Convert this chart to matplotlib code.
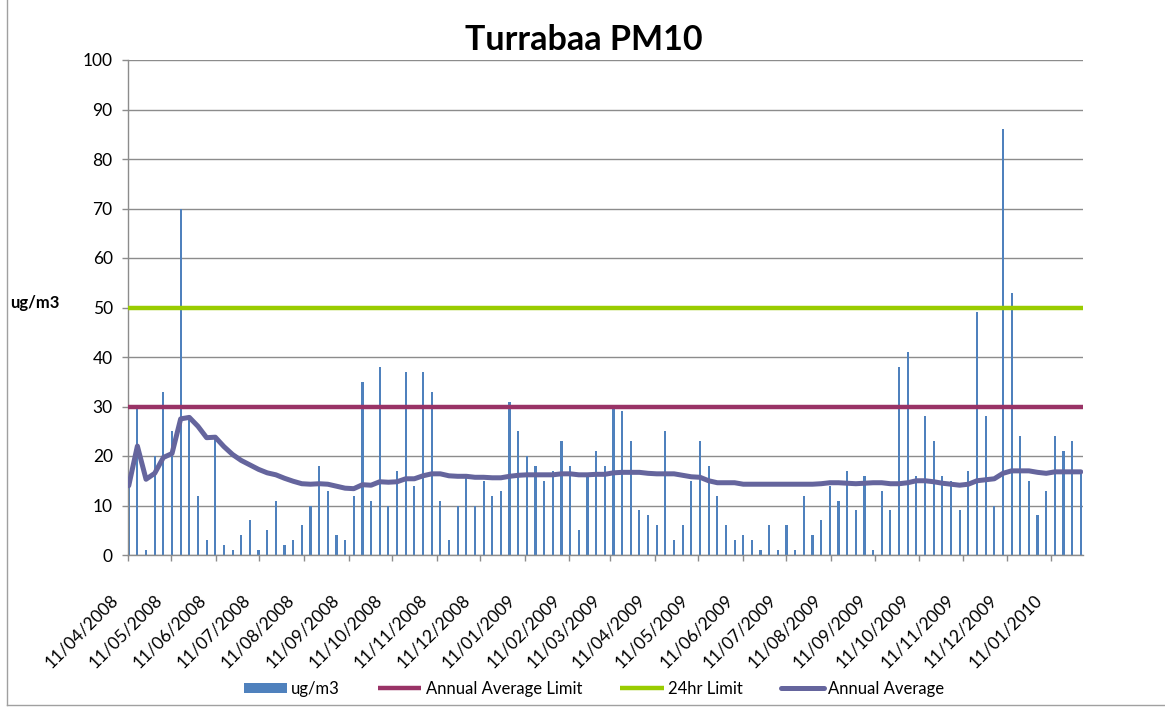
import matplotlib
matplotlib.use("Agg")
import matplotlib.pyplot as plt
import matplotlib.dates as mdates
from matplotlib.transforms import ScaledTranslation
from matplotlib.lines import Line2D
import numpy as np
import pandas as pd

plt.rcParams['font.family'] = ['Lato', 'DejaVu Sans']

# ---- data ----
start_date = "2008-04-11"
sample_step_days = 6
pm10 = [14, 30, 1, 20, 33, 25, 70, 28, 12, 3,
        24, 2, 1, 4, 7, 1, 5, 11, 2, 3,
        6, 10, 18, 13, 4, 3, 12, 35, 11, 38,
        10, 17, 37, 14, 37, 33, 11, 3, 10, 16,
        10, 15, 12, 13, 31, 25, 20, 18, 15, 17,
        23, 18, 5, 16, 21, 18, 30, 29, 23, 9,
        8, 6, 25, 3, 6, 15, 23, 18, 12, 6,
        3, 4, 3, 1, 6, 1, 6, 1, 12, 4,
        7, 14, 11, 17, 9, 16, 1, 13, 9, 38,
        41, 16, 28, 23, 16, 15, 9, 17, 49, 28,
        10, 86, 53, 24, 15, 8, 13, 24, 21, 23, 17]
annual_average = [14.0, 22.0, 15.3, 16.5, 19.7, 20.5, 27.5, 27.8, 26.0, 23.7,
                  23.8, 21.9, 20.3, 19.1, 18.2, 17.3, 16.6, 16.2, 15.5, 14.9,
                  14.4, 14.3, 14.4, 14.3, 13.9, 13.5, 13.4, 14.2, 14.1, 14.8,
                  14.7, 14.8, 15.4, 15.4, 16.0, 16.4, 16.4, 16.0, 15.9, 15.9,
                  15.7, 15.7, 15.6, 15.6, 15.9, 16.1, 16.2, 16.2, 16.2, 16.2,
                  16.4, 16.4, 16.2, 16.2, 16.3, 16.3, 16.6, 16.7, 16.7, 16.7,
                  16.5, 16.4, 16.4, 16.4, 16.1, 15.8, 15.7, 15.0, 14.6, 14.6,
                  14.6, 14.3, 14.3, 14.3, 14.3, 14.3, 14.3, 14.3, 14.3, 14.3,
                  14.4, 14.6, 14.6, 14.5, 14.4, 14.5, 14.6, 14.6, 14.4, 14.4,
                  14.6, 15.0, 15.0, 14.8, 14.5, 14.3, 14.1, 14.3, 15.0, 15.2,
                  15.4, 16.5, 17.0, 17.0, 17.0, 16.7, 16.5, 16.8, 16.8, 16.8, 16.8]
annual_average_limit = 30
daily_limit = 50
tick_labels = ["11/04/2008", "11/05/2008", "11/06/2008", "11/07/2008", "11/08/2008",
               "11/09/2008", "11/10/2008", "11/11/2008", "11/12/2008", "11/01/2009",
               "11/02/2009", "11/03/2009", "11/04/2009", "11/05/2009", "11/06/2009",
               "11/07/2009", "11/08/2009", "11/09/2009", "11/10/2009", "11/11/2009",
               "11/12/2009", "11/01/2010"]
title = "Turrabaa PM10"
unit_label = "ug/m3"

# ---- positions ----
dates = pd.date_range(start_date, periods=len(pm10), freq=f"{sample_step_days}D")
x = mdates.date2num(dates.to_pydatetime()) + 0.5
tick_dates = mdates.date2num(pd.to_datetime(tick_labels, format="%d/%m/%Y").to_pydatetime())
x0 = mdates.date2num(pd.Timestamp(start_date).to_pydatetime())
x1 = x0 + 662

W, H = 1165, 709
fig = plt.figure(figsize=(W / 100, H / 100), dpi=100)
ax = fig.add_axes([128 / W, 1 - 555 / H, (1083 - 128) / W, (555 - 60) / H])

bar_c = "#4F81BD"
lim_c = "#993366"
day_c = "#99CC00"
avg_c = "#65659D"
grid_c = "#8C8C8C"

hb = ax.bar(x, pm10, width=1.5, color=bar_c, zorder=2, label="ug/m3")
hl, = ax.plot([x0, x1], [annual_average_limit] * 2, color=lim_c, lw=3.2, zorder=3,
              solid_capstyle='butt', label="Annual Average Limit")
hd, = ax.plot([x0, x1], [daily_limit] * 2, color=day_c, lw=3.2, zorder=3,
              solid_capstyle='butt', label="24hr Limit")
ha_, = ax.plot(x, annual_average, color=avg_c, lw=3.6, zorder=4,
               solid_joinstyle='round', solid_capstyle='round', label="Annual Average")

ax.set_xlim(x0, x1)
ax.set_ylim(0, 100)
ax.set_yticks(np.arange(0, 101, 10))
ax.yaxis.grid(True, color=grid_c, lw=1)
ax.set_axisbelow(True)
for s in ["top", "right"]:
    ax.spines[s].set_visible(False)
for s in ["left", "bottom"]:
    ax.spines[s].set_color(grid_c)
    ax.spines[s].set_linewidth(1)

ax.tick_params(axis='y', length=4, width=1, color=grid_c, labelsize=12.5, pad=7, labelcolor='black')
ax.set_xticks(tick_dates)
ax.set_xticklabels(tick_labels, rotation=45, ha='right', va='center', rotation_mode='anchor')
ax.tick_params(axis='x', length=4, width=1, color=grid_c, labelsize=12.5, pad=0, labelcolor='black')
off = ScaledTranslation(-12 / 100, -37 / 100, fig.dpi_scale_trans)
for lbl in ax.get_xticklabels():
    lbl.set_transform(lbl.get_transform() + off)

fig.text(584 / W, 1 - 40 / H, title, ha='center', va='center', fontsize=24.5, fontweight='bold')
fig.text(10 / W, 1 - 303 / H, unit_label, ha='left', va='center', fontsize=12, fontweight='bold')

leg = fig.legend([hb, hl, hd, ha_], ["ug/m3", "Annual Average Limit", "24hr Limit", "Annual Average"],
                 loc='center', bbox_to_anchor=(594 / W, 1 - 689 / H),
                 ncol=4, frameon=False, fontsize=12, handlelength=2.6, handletextpad=0.25,
                 columnspacing=2.3, handleheight=0.6)

# outer chart border
fig.add_artist(Line2D([7 / W, 7 / W], [4 / H, 1.0], transform=fig.transFigure, color="#A0A0A0", lw=1))
fig.add_artist(Line2D([7 / W, 1.0], [4 / H, 4 / H], transform=fig.transFigure, color="#A0A0A0", lw=1))

fig.savefig("out.png", dpi=100)
